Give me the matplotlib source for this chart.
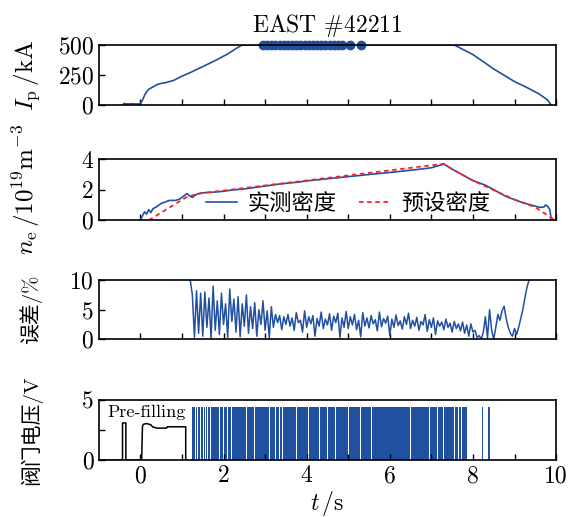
import matplotlib
matplotlib.use("Agg")
import matplotlib.pyplot as plt
import numpy as np

plt.rcParams['font.family'] = ['cmr10', 'Noto Sans CJK SC']
plt.rcParams['mathtext.fontset'] = 'cm'
plt.rcParams['axes.formatter.use_mathtext'] = True
plt.rcParams['axes.unicode_minus'] = False

BLUE = '#2150a0'
RED = '#ff2020'

# plasma current, kA
ip_t = [-0.42, -0.4, -0.3, -0.2, -0.1, 0.0, 0.05, 0.1, 0.15, 0.2, 0.3, 0.4, 0.5, 0.6, 0.8,
        1.0, 1.2, 1.5, 1.8, 2.1, 2.3, 2.45, 7.55, 8.0, 8.5, 9.0, 9.3, 9.6, 9.8, 9.88]
ip_v = [0, 12, 8, 10, 8, 10, 40, 80, 110, 130, 150, 170, 180, 185, 205,
        240, 270, 320, 370, 425, 470, 500, 500, 420, 300, 195, 145, 90, 40, 0]
ip_dots = [2.95, 3.05, 3.15, 3.25, 3.35, 3.45, 3.55, 3.65, 3.75, 3.85, 3.95, 4.05,
           4.15, 4.25, 4.35, 4.45, 4.55, 4.65, 4.75, 4.85, 5.05, 5.3]

# density, 1e19 m^-3
ne_t = [0.0, 0.05, 0.1, 0.15, 0.2, 0.25, 0.3, 0.4, 0.5, 0.6, 0.7, 0.85, 0.95, 1.05, 1.12,
        1.18, 1.25, 1.35, 1.5, 1.8, 2.0, 2.2, 2.5, 2.8, 3.0, 3.3, 3.5, 3.8, 4.0, 4.3, 4.5,
        4.8, 5.0, 5.3, 5.5, 5.8, 6.0, 6.3, 6.5, 6.8, 7.0, 7.2, 7.3, 7.35, 7.5, 7.7, 8.0,
        8.3, 8.6, 8.8, 9.0, 9.2, 9.4, 9.6, 9.7, 9.75, 9.8, 9.85, 9.88]
ne_v = [0.0, 0.3, 0.55, 0.4, 0.7, 0.5, 0.75, 0.9, 1.1, 1.2, 1.3, 1.3, 1.4, 1.6, 1.75,
        1.6, 1.5, 1.7, 1.8, 1.85, 1.9, 1.98, 2.05, 2.17, 2.24, 2.36, 2.42, 2.5, 2.58, 2.66, 2.72,
        2.8, 2.86, 2.94, 3.0, 3.08, 3.13, 3.22, 3.28, 3.37, 3.44, 3.6, 3.67, 3.6, 3.35, 3.05, 2.6,
        2.3, 1.85, 1.55, 1.35, 1.15, 1.0, 0.85, 0.85, 1.0, 0.9, 0.7, 0.1]
pre_t = [0.2, 1.1, 1.4, 7.3, 7.5, 8.0, 8.6, 9.0, 9.5, 9.95]
pre_v = [0.0, 1.5, 1.75, 3.7, 3.35, 2.6, 1.85, 1.35, 0.85, 0.05]

# error, %  (t = 1.20 ... 9.35, step 0.05)
err_t0, err_dt = 1.20, 0.05
err_v = [10, 7.5, 0.3, 8.2, 1.0, 7.8, 0.5, 8.0, 2.0, 7.0, 0.2, 9.0, 1.5, 6.5, 0.8, 7.8,
         2.5, 6.0, 0.3, 8.5, 3.0, 6.8, 1.2, 7.2, 0.4, 6.0, 2.2, 7.5, 1.0,
         5.5, 1.8, 6.2, 0.5, 5.0, 2.5, 6.5, 1.5, 4.8, 0.2, 5.5, 2.0, 4.2, 2.8, 4.0, 1.6, 3.8, 2.5,
         4.2, 2.2, 3.6, 1.5, 4.5, 2.8, 3.2, 1.2, 4.8, 2.0, 3.8, 2.6, 4.0, 0.5, 3.5, 2.2,
         4.6, 1.8, 3.4, 2.4, 4.3, 1.5, 3.9, 2.8, 4.4, 0.3, 3.6, 2.0, 4.7, 1.8,
         3.8, 2.4, 4.2, 1.6, 3.2, 0.4, 4.5, 2.2, 3.6, 1.9, 4.0, 2.6, 3.3, 1.4, 4.6, 2.1,
         3.5, 2.7, 3.9, 0.6, 3.4, 2.0, 4.1, 2.3, 3.1, 1.7, 3.8, 2.5, 4.4, 1.8,
         3.2, 2.2, 3.7, 1.5, 3.0, 2.4, 4.2, 1.3, 3.3, 2.0, 3.6, 0.8, 3.1, 2.2, 2.9, 1.6,
         3.4, 2.0, 2.7, 1.2, 3.0, 1.8, 2.6, 1.4, 2.9, 1.0, 2.4, 0.5, 2.6, 1.2,
         1.5, 0.3, 0.6, 0.0, 1.2, 3.8, 0.2, 5.0, 1.5, 0.0, 2.0, 4.2, 3.2, 4.8, 5.6, 3.5,
         2.0, 1.0, 0.5, 1.8, 0.8, 2.0, 3.5, 5.0, 7.0, 8.8, 10.0, 10.5]
err_t = [err_t0 + i * err_dt for i in range(len(err_v))]

# valve voltage, V
valve_on = [(1.25, 1.31), (1.33, 1.37), (1.39, 1.44), (1.46, 1.51), (1.53, 1.55),
            (1.57, 1.61), (1.63, 1.67), (1.69, 1.89), (1.91, 1.99), (2.01, 2.09),
            (2.11, 2.19), (2.21, 2.34), (2.36, 2.54), (2.56, 2.74), (2.76, 2.94),
            (2.96, 3.09), (3.11, 3.24), (3.26, 3.34), (3.36, 3.41), (3.43, 3.59),
            (3.61, 3.74), (3.76, 4.04), (4.06, 4.29), (4.31, 4.49), (4.51, 4.69),
            (4.71, 4.99), (5.01, 5.29), (5.31, 5.54), (5.56, 6.14), (6.16, 6.49),
            (6.51, 6.74), (6.76, 6.94), (6.96, 7.14), (7.16, 7.29), (7.31, 7.44),
            (7.46, 7.54), (7.56, 7.64), (7.66, 7.71), (7.73, 7.85), (8.21, 8.25),
            (8.37, 8.42)]
valve_high = 4.4
prefill_t = [-1.0, -0.43, -0.43, -0.35, -0.35, 0.03, 0.05, 0.08, 0.15, 0.25, 0.29,
             0.4, 0.63, 0.65, 1.09, 1.09, 1.15]
prefill_v = [0, 0, 3.1, 3.1, 0, 0, 2.85, 3.0, 3.05, 2.95, 2.78,
             2.67, 2.67, 2.78, 2.78, 0, 0]

fig = plt.figure(figsize=(5.68, 5.17), dpi=100)
L, W = 0.174, 0.805
ax1 = fig.add_axes([L, 0.797, W, 0.116])
ax2 = fig.add_axes([L, 0.574, W, 0.118])
ax3 = fig.add_axes([L, 0.344, W, 0.114])
ax4 = fig.add_axes([L, 0.110, W, 0.116])
axes = [ax1, ax2, ax3, ax4]

ax1.plot(ip_t, ip_v, color=BLUE, lw=1.2)
ax1.plot(ip_dots, [500] * len(ip_dots), 'o', color=BLUE, ms=6, clip_on=False)
ax1.set_ylim(0, 500)
ax1.set_yticks([0, 250, 500])
ax1.set_ylabel(r'$I_{\rm p}\,/{\rm kA}$', fontsize=18)
ax1.set_title(r'EAST $\#$42211', fontsize=17, pad=9)

ax2.plot(ne_t, ne_v, color=BLUE, lw=1.2, label='实测密度')
ax2.plot(pre_t, pre_v, '--', color=RED, lw=1.3, dashes=(2.5, 2), label='预设密度')
ax2.set_ylim(0, 4)
ax2.set_yticks([0, 2, 4])
ax2.set_ylabel(r'$n_{\rm e}\,/10^{19}{\rm m}^{-3}$', fontsize=18)
ax2.legend(loc='center', bbox_to_anchor=(0.545, 0.28), ncol=2, frameon=False,
           fontsize=16, handlelength=1.4, columnspacing=1.0, handletextpad=0.5,
           borderpad=0.1)

ax3.plot(err_t, err_v, color=BLUE, lw=1.1)
ax3.set_ylim(0, 10)
ax3.set_yticks([0, 5, 10])
ax3.set_ylabel('误差/%', fontsize=15)

ax4.broken_barh([(a, b - a) for a, b in valve_on], (0, valve_high),
                facecolor=BLUE, edgecolor='none')
ax4.plot(prefill_t, prefill_v, color='black', lw=1.1)
ax4.text(0.15, 3.95, 'Pre-filling', ha='center', va='center', fontsize=13)
ax4.set_ylim(0, 5)
ax4.set_yticks([0, 2.5, 5])
ax4.set_yticklabels(['0', '', '5'])
ax4.set_ylabel('阀门电压/V', fontsize=15)
ax4.set_xlabel(r'$t\,/{\rm s}$', fontsize=17, labelpad=1)

for ax in axes:
    ax.set_xlim(-1, 10)
    ax.set_xticks(range(0, 11))
    ax.tick_params(direction='in', length=4, width=1, labelsize=17,
                   top=False, right=False)
    for s in ax.spines.values():
        s.set_linewidth(1.2)
    ax.yaxis.set_label_coords(-0.125, 0.5)
for ax in axes[:3]:
    ax.set_xticklabels([])
ax4.set_xticklabels([str(i) if i % 2 == 0 else '' for i in range(0, 11)])

fig.savefig('out.png', dpi=100)
